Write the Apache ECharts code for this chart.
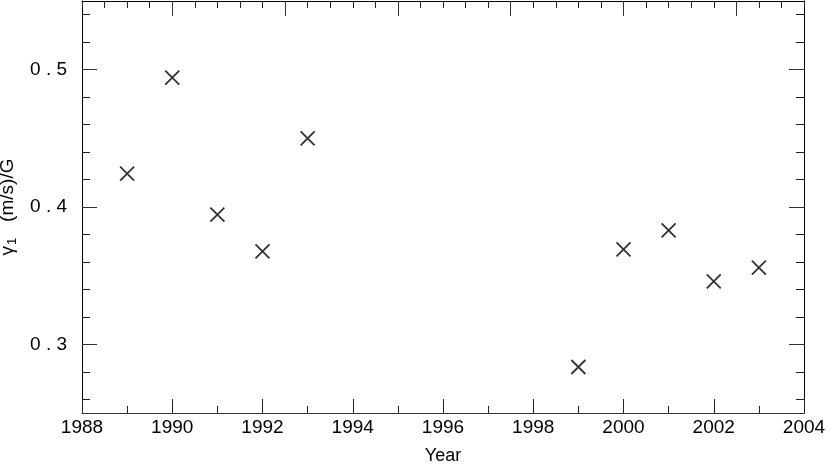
<!DOCTYPE html>
<html>
<head>
<meta charset="utf-8">
<script src="https://cdn.jsdelivr.net/npm/echarts@6/dist/echarts.min.js"></script>
<style>
  html, body { margin: 0; padding: 0; background: #fff; }
  #chart { width: 831px; height: 468px; }
</style>
</head>
<body>
<div id="chart"></div>
<script>
// data
const years = [1989, 1990, 1991, 1992, 1993, 1999, 2000, 2001, 2002, 2003]
const gamma = [0.4243, 0.4942, 0.3945, 0.3677, 0.450, 0.2835, 0.3692, 0.3830, 0.3459, 0.3559]

// tick positions
const yMajor = [0.3, 0.4, 0.5]
const yMinor = [0.26, 0.28, 0.32, 0.34, 0.36, 0.38, 0.42, 0.44, 0.46, 0.48, 0.52, 0.54]
const topMajor = [1990, 1992.5, 1995, 1997.5, 2000, 2002.5]

const FONT = 'Liberation Sans'
const INK = '#000'

const chart = echarts.init(document.getElementById('chart'))

const yBase = {
  type: 'value', min: 0.25, max: 0.55,
  splitLine: { show: false },
  axisLine: { show: false },
  axisLabel: { show: false },
}

chart.setOption({
  animation: false,
  grid: { left: 82, right: 27, top: 1, bottom: 55, outerBoundsMode: 'none', containLabel: false },
  xAxis: [
    {
      type: 'value', min: 1988, max: 2004, interval: 2,
      name: 'Year', nameLocation: 'middle', nameGap: 34,
      nameTextStyle: { fontFamily: FONT, fontSize: 18, color: INK },
      axisLine: { show: true, lineStyle: { color: '#333', width: 1 } },
      axisTick: { inside: true, length: 14, lineStyle: { color: '#222' } },
      minorTick: { show: true, splitNumber: 2, length: 7, lineStyle: { color: '#222' } },
      axisLabel: { fontFamily: FONT, fontSize: 19, color: INK, margin: 5, formatter: v => String(v) },
      splitLine: { show: false },
    },
    {
      type: 'value', position: 'top', min: 1988, max: 2004, interval: 0.5,
      axisLine: { show: true, onZero: false, lineStyle: { color: INK, width: 1 } },
      axisTick: { inside: true, length: 7, lineStyle: { color: '#222' } },
      axisLabel: { show: false },
      splitLine: { show: false },
    },
    {
      type: 'value', position: 'top', min: 1988, max: 2004,
      axisLine: { show: false },
      axisTick: { inside: true, length: 15, customValues: topMajor, lineStyle: { color: '#333' } },
      axisLabel: { show: false },
      splitLine: { show: false },
    },
  ],
  yAxis: [
    {
      ...yBase, position: 'left',
      name: '{g|γ}{s|1}{n|   (m/s)/G}', nameLocation: 'middle', nameGap: 60,
      nameTextStyle: {
        fontFamily: FONT, fontSize: 19, color: INK,
        rich: {
          g: { fontFamily: FONT, fontSize: 19, color: INK },
          s: { fontFamily: FONT, fontSize: 13, color: INK, padding: [10, 0, 0, 1] },
          n: { fontFamily: FONT, fontSize: 19, color: INK },
        },
      },
      axisLine: { show: true, onZero: false, lineStyle: { color: INK, width: 1 } },
      axisTick: { inside: true, length: 15, customValues: yMajor, lineStyle: { color: '#333' } },
      axisLabel: {
        show: true, customValues: yMajor, margin: 15,
        fontFamily: FONT, fontSize: 19, color: INK,
        formatter: v => String(v).split('').join(' '),
      },
    },
    {
      ...yBase, position: 'left',
      axisTick: { inside: true, length: 8, customValues: yMinor, lineStyle: { color: '#222' } },
    },
    {
      ...yBase, position: 'right',
      axisLine: { show: true, onZero: false, lineStyle: { color: INK, width: 1 } },
      axisTick: { inside: true, length: 15, customValues: yMajor, lineStyle: { color: '#333' } },
    },
    {
      ...yBase, position: 'right',
      axisTick: { inside: true, length: 8, customValues: yMinor, lineStyle: { color: '#222' } },
    },
  ],
  series: [{
    type: 'scatter',
    xAxisIndex: 0, yAxisIndex: 0,
    data: years.map((y, i) => [y, gamma[i]]),
    symbol: 'path://M0,0L10,10M10,0L0,10',
    symbolSize: 14,
    itemStyle: { color: 'transparent', borderColor: INK, borderWidth: 1.8 },
  }],
})
</script>
</body>
</html>
